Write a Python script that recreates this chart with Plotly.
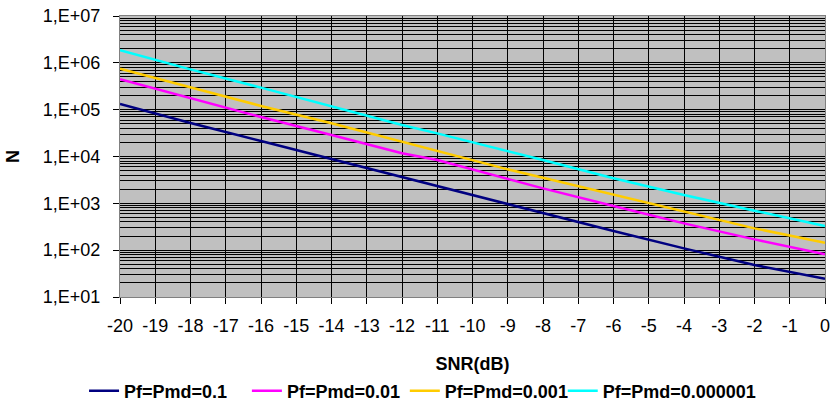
import plotly.graph_objects as go

snr_db = [-20, -18, -16, -14, -12, -11, -9, -8, -6, -4, -2, 0]

n_pf_01 = [1.32e5, 5.21e4, 2.14e4, 8830, 3590, 2265, 968, 611, 256, 109, 48.2, 24.6]
n_pf_001 = [4.45e5, 1.73e5, 6.97e4, 2.88e4, 1.17e4, 8410, 3260, 2090, 877, 374, 170, 81.5]
n_pf_0001 = [7.50e5, 2.99e5, 1.20e5, 5.11e4, 2.07e4, 1.33e4, 5320, 3530, 1556, 664, 292, 144]
n_pf_000001 = [1.85e6, 7.24e5, 2.95e5, 1.16e5, 4.70e4, 3.12e4, 1.31e4, 8410, 3420, 1507, 697, 328]

series_names = ["Pf=Pmd=0.1", "Pf=Pmd=0.01", "Pf=Pmd=0.001", "Pf=Pmd=0.000001"]
series_colors = ["#000080", "#FF00FF", "#FFCC00", "#00FFFF"]
series_values = [n_pf_01, n_pf_001, n_pf_0001, n_pf_000001]

x_ticks = list(range(-20, 1))
y_tickvals = [1e1, 1e2, 1e3, 1e4, 1e5, 1e6, 1e7]
y_ticktext = ["1,E+01", "1,E+02", "1,E+03", "1,E+04", "1,E+05", "1,E+06", "1,E+07"]

FONT = "Liberation Sans, Arial, sans-serif"

legend_ids = ["legend", "legend2", "legend3", "legend4"]
legend_x = [-0.051, 0.180, 0.404, 0.628]

fig = go.Figure()
for name, color, vals, lid in zip(series_names, series_colors, series_values, legend_ids):
    fig.add_trace(go.Scatter(x=snr_db, y=vals, mode="lines", name=name, legend=lid,
                             line=dict(color=color, width=2.5)))

legend_style = dict(orientation="h", xanchor="left", y=-0.335, yanchor="middle",
                    font=dict(family=FONT, size=18, color="black", weight="bold"),
                    bgcolor="rgba(0,0,0,0)")

fig.update_layout(
    width=831, height=401,
    margin=dict(l=120, r=6, t=16, b=104, autoexpand=False),
    paper_bgcolor="white",
    plot_bgcolor="#C0C0C0",
    font=dict(family=FONT, size=18, color="black"),
    showlegend=True,
    **{lid: dict(x=lx, **legend_style) for lid, lx in zip(legend_ids, legend_x)},
)

fig.update_xaxes(
    range=[-20, 0], tickvals=x_ticks, ticktext=[str(v) for v in x_ticks],
    automargin=False, ticklabeloverflow="allow",
    showgrid=True, gridcolor="black", gridwidth=1,
    zeroline=False, showline=True, linecolor="#808080", linewidth=1, mirror=True,
    ticks="outside", ticklen=6, tickcolor="black", ticklabelstandoff=6,
    tickfont=dict(family=FONT, size=18, color="black"),
    title=dict(text="<b>SNR(dB)</b>", font=dict(family=FONT, size=18, color="black"), standoff=22),
)

fig.update_yaxes(
    type="log", range=[1, 7], tickvals=y_tickvals, ticktext=y_ticktext,
    automargin=False, ticklabeloverflow="allow",
    showgrid=True, gridcolor="black", gridwidth=1,
    minor=dict(showgrid=True, gridcolor="black", gridwidth=1, dtick="D1", ticks=""),
    zeroline=False, showline=True, linecolor="#808080", linewidth=1, mirror=True,
    ticks="outside", ticklen=6, tickcolor="black", ticklabelstandoff=9,
    tickfont=dict(family=FONT, size=18, color="black"),
    title=dict(text="<b>N</b>", font=dict(family=FONT, size=18, color="black"), standoff=18),
)

fig.write_html("out.html", post_script="document.body.style.margin='0';",
               config={"displayModeBar": False})
